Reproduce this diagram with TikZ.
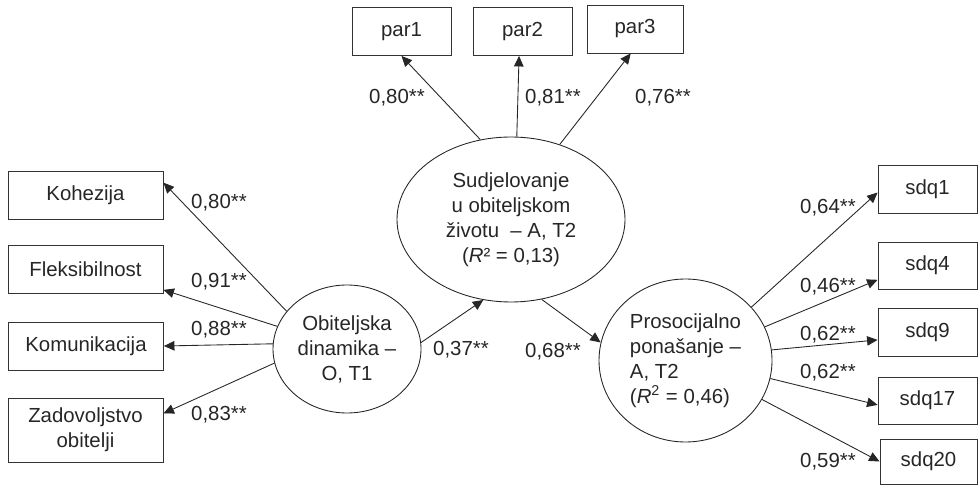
\documentclass[tikz,border=0pt]{standalone}
\usepackage{fontspec}
\setmainfont{Liberation Sans}
\usetikzlibrary{shapes.geometric, arrows.meta}
\begin{document}
\begin{tikzpicture}[
        font = \fontsize{11.6}{14.2}\selectfont,
        every node/.style = {text = black!85},
        box/.style = {draw = black!80, line width = 0.5pt, minimum width = 3.1cm, minimum height = 0.96cm, inner sep = 0pt},
        sbox/.style = {box, minimum width = 1.98cm},
        latent/.style = {draw = black!85, line width = 0.5pt, ellipse, inner sep = 0pt, align = center},
        path/.style = {draw = black!85, line width = 0.5pt, -{Triangle[length = 2.1mm, width = 1.9mm]}},
        coef/.style = {inner sep = 0pt}
    ]
        \useasboundingbox (0, 0) rectangle (19.58, 9.7);
        \node [box] (koh) at (1.71, 5.80) {Kohezija};
        \node [box] (fle) at (1.71, 4.32) {Fleksibilnost};
        \node [box] (kom) at (1.72, 2.78) {Komunikacija};
        \node [box, minimum height = 1.28cm, align = center] (zad) at (1.71, 1.10) {Zadovoljstvo\\obitelji};
        \node [latent, minimum width = 2.96cm, minimum height = 2.56cm] (dyn) at (6.94, 2.72) {Obiteljska\\dinamika --\\O, T1};
        \node [latent, minimum width = 4.56cm, minimum height = 3.30cm] (sud) at (10.22, 5.31) {Sudjelovanje\\u obiteljskom\\životu~~-- A, T2\\(\textit{R}² = 0,13)};
        \node [latent, minimum width = 3.46cm, minimum height = 3.26cm, align = left] (pro) at (13.71, 2.49) {Prosocijalno\\ponašanje --\\A, T2\\(\textit{R}\textsuperscript{2} = 0,46)};
        \node [sbox] (par1) at (8.03, 9.07) {par1};
        \node [sbox] (par2) at (10.45, 9.07) {par2};
        \node [sbox, minimum width = 1.92cm] (par3) at (12.70, 9.12) {par3};
        \node [sbox] (sdq1) at (18.55, 5.92) {sdq1};
        \node [sbox, minimum height = 0.94cm] (sdq4) at (18.55, 4.39) {sdq4};
        \node [sbox] (sdq9) at (18.55, 3.06) {sdq9};
        \node [sbox, minimum height = 0.94cm] (sdq17) at (18.55, 1.69) {sdq17};
        \node [sbox, minimum width = 1.94cm, minimum height = 0.9cm] (sdq20) at (18.57, 0.47) {sdq20};
        \draw [path] (dyn.148.6) -- (koh.9);
        \draw [path] (dyn.162) -- (fle.-15);
        \draw [path] (dyn.176) -- (kom.east);
        \draw [path] (dyn.191) -- (zad.12);
        \draw [path] (dyn.5) -- (sud.251);
        \draw [path] (sud.291) -- (pro.168);
        \draw [path] (sud.111) -- (par1.south);
        \draw [path] (sud.86) -- (par2.262);
        \draw [path] (sud.57) -- (par3.260);
        \draw [path] (pro.39) -- (sdq1.184);
        \draw [path] (pro.23) -- (sdq4.196);
        \draw [path] (pro.7) -- (sdq9.189);
        \draw [path] (pro.-12) -- (sdq17.185);
        \draw [path] (pro.-27) -- (sdq20.west);
        \node [coef] (c-koh) at (4.38, 5.64) {0,80**};
        \node [coef] (c-fle) at (4.38, 4.06) {0,91**};
        \node [coef] (c-kom) at (4.38, 3.10) {0,88**};
        \node [coef] (c-zad) at (4.38, 1.40) {0,83**};
        \node [coef] (c-dyn) at (9.22, 2.70) {0,37**};
        \node [coef] (c-sud) at (11.06, 2.66) {0,68**};
        \node [coef] (c-par1) at (7.94, 7.74) {0,80**};
        \node [coef] (c-par2) at (11.06, 7.74) {0,81**};
        \node [coef] (c-par3) at (13.26, 7.74) {0,76**};
        \node [coef] (c-sdq1) at (16.56, 5.54) {0,64**};
        \node [coef] (c-sdq4) at (16.56, 3.96) {0,46**};
        \node [coef] (c-sdq9) at (16.56, 3.00) {0,62**};
        \node [coef] (c-sdq17) at (16.56, 2.24) {0,62**};
        \node [coef] (c-sdq20) at (16.56, 0.46) {0,59**};
    \end{tikzpicture}
\end{document}
